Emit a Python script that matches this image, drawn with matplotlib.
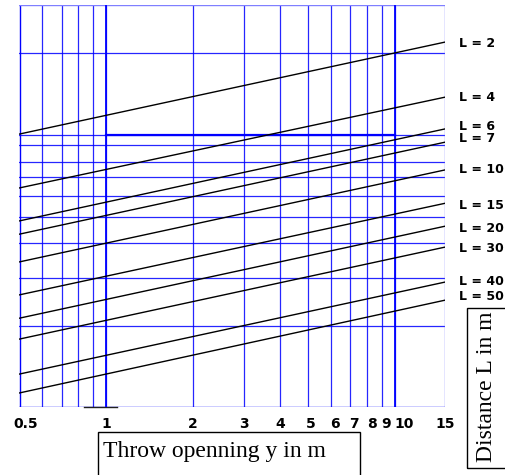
import matplotlib
matplotlib.use("Agg")
import matplotlib.pyplot as plt
import matplotlib.transforms as mtransforms
from matplotlib.patches import Rectangle

# x axis: throw opening y in m (log scale)
x_min, x_max = 0.5, 15
x_grid = [0.6, 0.7, 0.8, 0.9, 1, 2, 3, 4, 5, 6, 7, 8, 9, 10]
x_ticks = [0.5, 1, 2, 3, 4, 5, 6, 7, 8, 9, 10, 15]
x_tick_labels = ["0.5", "1", "2", "3", "4", "5", "6", "7", "8", "9", "10", "15"]

y_grid = [88.1, 67.7, 65.2, 60.9, 57.2, 52.5, 47.3, 40.8, 32.1, 20.1]

# distance curves: value at x = 0.5 and at x = 15
distances = [2, 4, 6, 7, 10, 15, 20, 30, 40, 50]
val_left = [67.9, 54.5, 46.3, 43.0, 36.1, 27.9, 22.1, 16.9, 8.2, 3.5]
val_right = [90.8, 77.1, 69.2, 65.9, 59.0, 50.7, 45.0, 39.8, 31.1, 26.6]
label_pos = [90.5, 76.9, 69.9, 66.9, 59.0, 50.2, 44.5, 39.5, 31.3, 27.4]

# worked example marked on the chart
example_x = [1, 10]
example_y = 67.7

blue = "#0000ff"
light_blue = "#7f7fff"

fig = plt.figure(figsize=(5.06, 4.75), dpi=100)
ax = fig.add_axes([19.5 / 506, 68 / 475, 426 / 506, 402 / 475])
ax.set_xscale("log")
ax.set_xlim(x_min, x_max)
ax.set_ylim(0, 100)
for s in ax.spines.values():
    s.set_visible(False)

# grid
for gx in x_grid:
    ax.axvline(gx, color=blue, linewidth=0.9, alpha=0.85)
for gy in y_grid:
    ax.axhline(gy, color=blue, linewidth=0.9, alpha=0.85)
ax.axvline(x_min, color=blue, linewidth=1.0)
ax.axvline(x_max, color=light_blue, linewidth=1.0)
ax.axhline(0, color=blue, linewidth=1.0)
ax.axhline(100, color=light_blue, linewidth=1.0)
ax.plot([0.84, 1.09], [0, 0], color="#202020", linewidth=1.0, clip_on=False)

# highlighted example
for ex in example_x:
    ax.axvline(ex, color=blue, linewidth=1.3)
ax.plot(example_x, [example_y, example_y], color=blue, linewidth=1.6)

# distance lines
lab_tr = mtransforms.blended_transform_factory(fig.transFigure, ax.transData)
for L, a, b, ly in zip(distances, val_left, val_right, label_pos):
    ax.plot([x_min, x_max], [a, b], color="black", linewidth=1.0)
    ax.text(459 / 506, ly, "L = %d" % L, transform=lab_tr, fontsize=9,
            fontweight="bold", ha="left", va="center", color="black")

# ticks
ax.set_yticks([])
ax.set_xticks(x_ticks)
ax.set_xticks([], minor=True)
ax.set_xticklabels(x_tick_labels, fontsize=10, fontweight="bold")
ax.tick_params(axis="x", length=0, pad=7)
nudges = {"0.5": 6, "5": 3, "6": 4, "7": 4, "8": 5, "9": 5, "10": 9}
for lab in ax.get_xticklabels():
    dx = nudges.get(lab.get_text(), 0)
    if dx:
        lab.set_transform(lab.get_transform() +
                          mtransforms.ScaledTranslation(dx / 100, 0, fig.dpi_scale_trans))

# axis title boxes
fig.patches.append(Rectangle((98 / 506, -0.05), 262 / 506, 0.05 + 43 / 475,
                             transform=fig.transFigure, fill=False,
                             edgecolor="black", linewidth=1.0))
fig.text(103 / 506, 18 / 475, "Throw openning y in m", fontsize=17,
         family="Liberation Serif", ha="left", va="baseline")

fig.patches.append(Rectangle((467 / 506, 7 / 475), 0.2, 160 / 475,
                             transform=fig.transFigure, fill=False,
                             edgecolor="black", linewidth=1.0))
fig.text(487 / 506, 88 / 475, "Distance L in m", fontsize=17,
         family="Liberation Serif", rotation=90, ha="center", va="center")

fig.savefig("out.png", dpi=100)
